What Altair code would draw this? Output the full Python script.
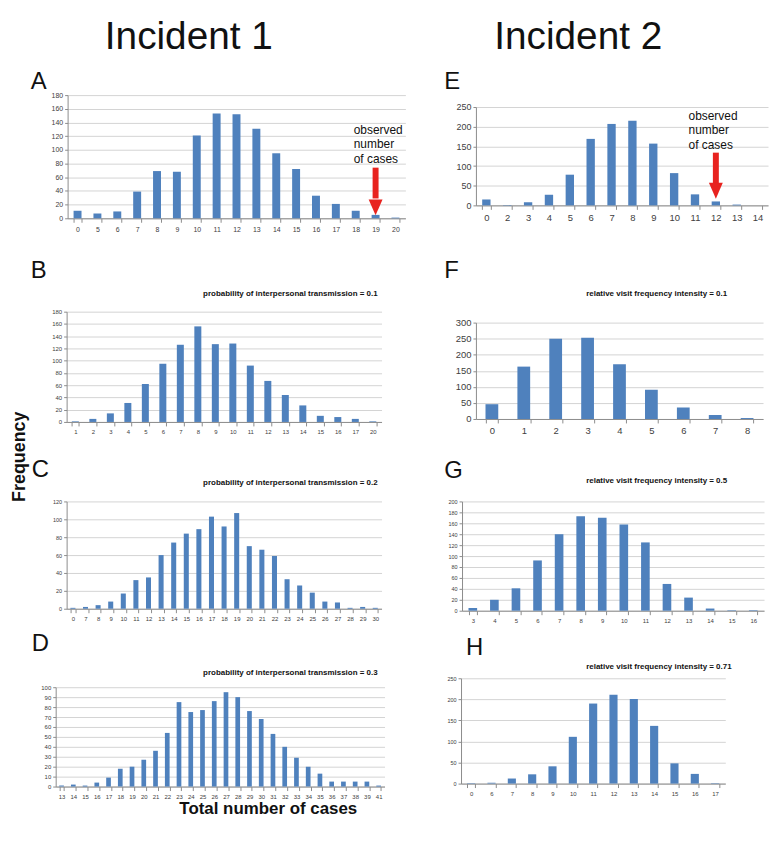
import altair as alt
import pandas as pd

FONT = "Liberation Sans"
BLUE = "#4F81BD"
RED = "#E8231F"
GRID = "#d4d4d4"
AXIS = "#8c8c8c"
LABEL = "#404040"

# ---------------- data ----------------
A_cats = ["0", "5", "6", "7", "8", "9", "10", "11", "12", "13", "14", "15", "16", "17", "18", "19", "20"]
A_vals = [11, 7, 10, 39, 69, 68, 121, 153, 152, 131, 95, 72, 33, 21, 11, 5, 1]

B_cats = ["1", "2", "3", "4", "5", "6", "7", "8", "9", "10", "11", "12", "13", "14", "15", "16", "17", "20"]
B_vals = [1, 5, 14, 31, 62, 95, 126, 156, 127, 128, 92, 67, 44, 27, 10, 8, 5, 1]

C_cats = ["0", "7", "8", "9", "10", "11", "12", "13", "14", "15", "16", "17", "18", "19", "20",
          "21", "22", "23", "24", "25", "26", "27", "28", "29", "30"]
C_vals = [1, 2, 4, 8, 17, 32, 35, 60, 74, 84, 89, 103, 92, 107, 70, 66, 59, 33, 26, 18, 8, 7, 1, 2, 1]

D_cats = ["13", "14", "15", "16", "17", "18", "19", "20", "21", "22", "23", "24", "25", "26", "27",
          "28", "29", "30", "31", "32", "33", "34", "35", "36", "37", "38", "39", "41"]
D_vals = [1, 2, 1, 4, 9, 18, 20, 27, 36, 54, 85, 75, 77, 86, 95, 90, 76, 68, 53, 40, 29, 20, 13, 5, 5, 5, 5, 1]

E_cats = ["0", "2", "3", "4", "5", "6", "7", "8", "9", "10", "11", "12", "13", "14"]
E_vals = [15, 1, 8, 27, 78, 169, 207, 215, 157, 82, 28, 10, 2, 0]

F_cats = ["0", "1", "2", "3", "4", "5", "6", "7", "8"]
F_vals = [46, 163, 250, 253, 170, 91, 36, 12, 3]

G_cats = ["3", "4", "5", "6", "7", "8", "9", "10", "11", "12", "13", "14", "15", "16"]
G_vals = [5, 20, 41, 92, 140, 173, 170, 158, 125, 49, 24, 4, 1, 1]

H_cats = ["0", "6", "7", "8", "9", "10", "11", "12", "13", "14", "15", "16", "17"]
H_vals = [1, 2, 12, 22, 41, 111, 190, 211, 201, 137, 48, 23, 1]

# observed-number arrows: category, shaft top, head base, head centre (data units)
A_arrow = ["19", 74, 29, 16]
E_arrow = ["12", 134, 56, 37]

one = pd.DataFrame({"a": [0]})


def xenc(cats, fs, pad):
    return alt.X("cat:N", scale=alt.Scale(domain=cats, paddingInner=0.6, paddingOuter=0.3),
                 axis=alt.Axis(title=None, labelAngle=0, tickBand="extent", tickSize=4, tickColor=AXIS,
                               domainColor=AXIS, labelFontSize=fs, labelColor=LABEL, labelFont=FONT,
                               labelPadding=pad, labelOverlap=False, grid=False))


def yenc(ymax, ystep, fs):
    return alt.Y("val:Q", scale=alt.Scale(domain=[0, ymax], nice=False),
                 axis=alt.Axis(title=None, values=list(range(0, ymax + 1, ystep)), grid=True,
                               gridColor=GRID, domainColor=AXIS, tickColor=AXIS, tickSize=3,
                               labelFontSize=fs, labelColor=LABEL, labelFont=FONT, labelPadding=2))


def bars(cats, vals, ymax, ystep, xfs, yfs, xpad=2):
    df = pd.DataFrame({"cat": cats, "val": vals})
    return alt.Chart(df).mark_bar(color=BLUE).encode(
        x=xenc(cats, xfs, xpad), y=yenc(ymax, ystep, yfs))


def arrow(spec, cats, ymax, ystep, xfs, yfs, xpad=2):
    df = pd.DataFrame({"cat": [spec[0]], "val": [spec[1]], "val2": [spec[2]]})
    dh = pd.DataFrame({"cat": [spec[0]], "val": [spec[3]]})
    shaft = alt.Chart(df).mark_rule(color=RED, strokeWidth=6).encode(
        x=xenc(cats, xfs, xpad), y=yenc(ymax, ystep, yfs), y2="val2:Q")
    head = alt.Chart(dh).mark_point(shape="M-0.875,-1L0.875,-1L0,1Z", filled=True, color=RED,
                                    size=256, opacity=1, strokeWidth=0).encode(
        x=xenc(cats, xfs, xpad), y=yenc(ymax, ystep, yfs))
    return [shaft, head]


def txt(text, x, y, size, weight="normal", align="left", angle=0, lh=None, baseline="alphabetic",
        color="#111111", font=FONT):
    kw = dict(text=text, fontSize=size, font=font, fontWeight=weight, align=align,
              baseline=baseline, color=color)
    if angle:
        kw["angle"] = angle
    if lh:
        kw["lineHeight"] = lh
    return alt.Chart(one).mark_text(**kw).encode(x=alt.value(x), y=alt.value(y))


def box(x1, y1, x2, y2):
    # invisible layout box: fixes the extent each panel takes in the concat layout
    return alt.Chart(one).mark_rule(strokeOpacity=0, strokeWidth=0).encode(
        x=alt.value(x1), x2=alt.value(x2), y=alt.value(y1), y2=alt.value(y2))


def spacer(w=1, h=1):
    return box(0, 0, w, h).properties(width=w, height=h)


LET = 24
SUB = 8
TITLE = 39
OBS = ["observed", "number", "of cases"]

# ---------------- panels ----------------
pA = alt.layer(
    bars(A_cats, A_vals, 180, 20, 7, 7, 3),
    *arrow(A_arrow, A_cats, 180, 20, 7, 7, 3),
    txt("A", -37, -6, LET),
    txt("Incident 1", 122, -46, TITLE, align="center"),
    txt(OBS, 288, 39, 12, lh=14.5),
    box(-38, -84, 369, 144),
).properties(width=340, height=124)

pB = alt.layer(
    bars(B_cats, B_vals, 180, 20, 6, 6, 3),
    txt("B", -36, -34, LET),
    txt("probability of interpersonal transmission = 0.1", 313, -16, SUB, weight="bold", align="right"),
    box(-37, -74, 370, 131),
).properties(width=317, height=111)

pC = alt.layer(
    bars(C_cats, C_vals, 120, 20, 6, 5.5, 3),
    txt("C", -35, -25, LET),
    txt("probability of interpersonal transmission = 0.2", 313, -17, SUB, weight="bold", align="right"),
    box(-37, -60, 370, 128),
).properties(width=317, height=108)

pD = alt.layer(
    bars(D_cats, D_vals, 100, 10, 6, 6, 3),
    txt("D", -24, -36, LET),
    txt("probability of interpersonal transmission = 0.3", 324, -12, SUB, weight="bold", align="right"),
    txt("Total number of cases", 214, 128, 17, weight="bold", align="center"),
    box(-26, -59, 381, 133),
).properties(width=331, height=100)

pE = alt.layer(
    bars(E_cats, E_vals, 250, 50, 9.5, 9, 3),
    *arrow(E_arrow, E_cats, 250, 50, 9.5, 9, 3),
    txt("E", -32, -18, LET),
    txt("Incident 2", 103, -58, TITLE, align="center"),
    txt(OBS, 214, 13, 12, lh=14.5),
    box(-41, -96, 296, 119),
).properties(width=294, height=99)

pF = alt.layer(
    bars(F_cats, F_vals, 300, 50, 9.5, 9.5, 3),
    txt("F", -32, -45, LET),
    txt("relative visit frequency intensity = 0.1", 111, -27, SUB, weight="bold"),
    box(-41, -98, 296, 117),
).properties(width=289, height=97)

pG = alt.layer(
    bars(G_cats, G_vals, 200, 20, 6, 5.5, 3),
    txt("G", -18, -24, LET),
    txt("relative visit frequency intensity = 0.5", 125, -19, SUB, weight="bold"),
    box(-27, -63, 306, 130),
).properties(width=304, height=110)

pH = alt.layer(
    bars(H_cats, H_vals, 250, 50, 6, 5.5, 3),
    txt("H", 5, -23, LET),
    txt("relative visit frequency intensity = 0.71", 126, -9, SUB, weight="bold"),
    box(-26, -48, 300, 126),
).properties(width=266, height=106)

freq = alt.layer(
    box(0, 0, 21, 700),
    txt("Frequency", 12, 449, 18, weight="bold", align="center", angle=270, baseline="middle"),
).properties(width=21, height=700)


# ---------------- layout ----------------
def row(p):
    return alt.hconcat(spacer(), p, spacing=0, bounds="full")


left = alt.vconcat(spacer(), row(pA), row(pB), row(pC), row(pD), spacing=0, bounds="full")
right = alt.vconcat(spacer(), row(pE), row(pF), row(pG), row(pH), spacing=0, bounds="full")

chart = alt.hconcat(freq, left, right, spacing=0, bounds="full").properties(
    padding=0, background="white"
).configure_view(strokeWidth=0)

chart.save("out.html", embed_options={"renderer": "svg", "actions": False})
